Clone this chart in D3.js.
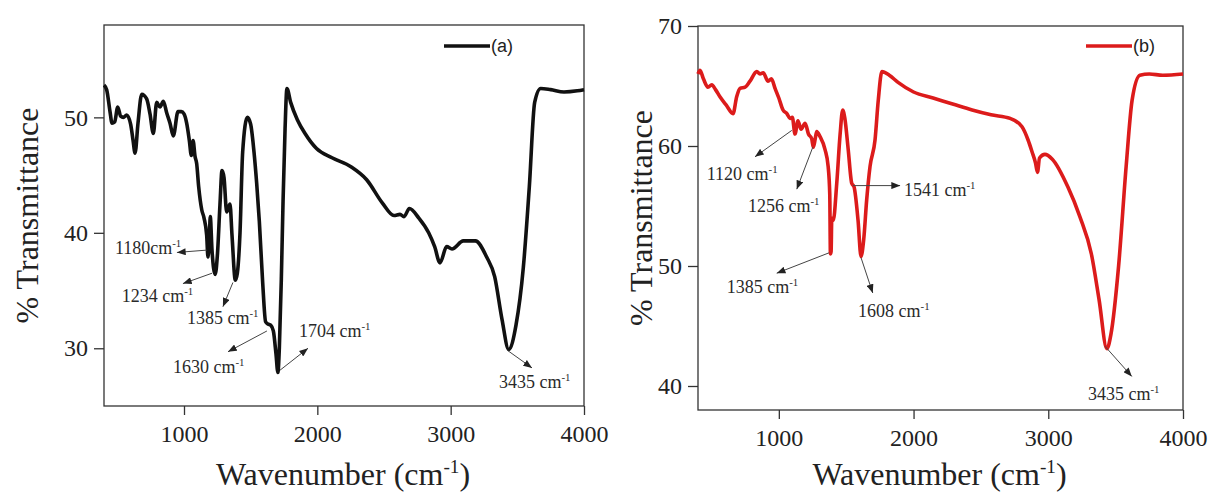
<!DOCTYPE html>
<html lang="en">
<head>
<meta charset="UTF-8">
<title>FTIR spectra (a) and (b)</title>
<script src="https://cdnjs.cloudflare.com/ajax/libs/d3/7.8.5/d3.min.js"></script>
<style>
  body { margin: 0; background: #fff; }
  svg { display: block; }
  .tick text { font-family: "Liberation Serif", "Times New Roman", serif; font-size: 24px; fill: #222; }
  .axis line { stroke: #333; stroke-width: 1.3px; }
  .axis path { display: none; }
  .frame { fill: none; stroke: #333; stroke-width: 1.3px; }
  .title { font-family: "Liberation Serif", "Times New Roman", serif; font-size: 32px; fill: #222; }
  .note { font-family: "Liberation Serif", "Times New Roman", serif; font-size: 18px; fill: #2a2a2a; }
  .legend { font-family: "Liberation Sans", Arial, sans-serif; font-size: 18px; fill: #222; }
  .pointer { stroke: #444; stroke-width: 1px; }
</style>
</head>
<body>
<div id="chart"></div>
<script>
// shared x axis
const xDomain = [400, 4000];
const xTicks = [1000, 2000, 3000, 4000];

// spectrum (a)
const waveA = [400, 420, 445, 460, 480, 503, 525, 545, 570, 600, 618, 633, 655, 683, 720, 745, 770, 795, 820, 845, 870, 895,
  920, 955, 980, 1000, 1020, 1040, 1055, 1068, 1083, 1095, 1110, 1133, 1150, 1170, 1180, 1190, 1197, 1210, 1234, 1250,
  1270, 1285, 1300, 1320, 1345, 1360, 1385, 1400, 1420, 1440, 1475, 1500, 1525, 1545, 1565, 1590, 1612, 1630, 1650,
  1670, 1690, 1704, 1715, 1730, 1743, 1758, 1772, 1800, 1850, 1908, 1994, 2110, 2255, 2370, 2487, 2575, 2620, 2650,
  2690, 2760, 2835, 2880, 2920, 2970, 3010, 3095, 3185, 3270, 3330, 3385, 3435, 3490, 3545, 3590, 3630, 3675, 3750,
  3850, 3950, 4000];
const transA = [52.8, 52.4, 50.5, 49.5, 49.6, 50.9, 50.1, 50.0, 50.2, 49.4, 48.0, 46.9, 49.5, 52.0, 51.6, 50.3, 48.6, 51.3, 50.9, 51.4, 50.4, 49.5,
  48.4, 50.5, 50.5, 50.3, 49.5, 48.0, 46.7, 48.0, 46.6, 46.0, 44.0, 42.0, 41.3, 39.8, 37.9, 39.5, 41.4, 38.5, 36.4, 38.0,
  42.5, 45.4, 44.8, 41.8, 42.5, 39.8, 35.9, 36.5, 40.0, 47.0, 50.0, 49.4, 47.0, 44.3, 41.0, 35.7, 32.3, 32.1, 32.0,
  31.5, 29.5, 27.9, 30.0, 36.0, 42.8, 49.0, 52.5, 51.3, 49.8, 48.6, 47.3, 46.5, 45.7, 44.6, 42.6, 41.5, 41.6, 41.4,
  42.1, 41.3, 40.0, 38.8, 37.4, 38.8, 38.6, 39.3, 39.3, 37.9, 36.2, 32.5, 29.9, 32.0, 37.0, 44.0, 51.3, 52.5, 52.4,
  52.2, 52.3, 52.4];

// spectrum (b)
const waveB = [400, 415, 440, 474, 502, 530, 563, 610, 660, 687, 712, 750, 786, 836, 860, 884, 920, 945, 972, 1000,
  1031, 1060, 1083, 1100, 1120, 1142, 1165, 1195, 1220, 1244, 1256, 1270, 1281, 1305, 1343, 1366, 1378, 1383, 1388,
  1393, 1404, 1430, 1455, 1474, 1490, 1515, 1541, 1558, 1588, 1610, 1630, 1652, 1677, 1714, 1738, 1765, 1820, 1885,
  2000, 2145, 2290, 2435, 2575, 2717, 2805, 2850, 2880, 2905, 2920, 2935, 2975, 3030, 3145, 3235, 3320, 3377, 3435,
  3465, 3522, 3578, 3622, 3680, 3750, 3850, 4000];
const transB = [66.0, 66.3, 65.6, 64.9, 65.1, 64.7, 64.1, 63.4, 62.7, 64.1, 64.8, 64.9, 65.4, 66.2, 66.0, 66.1, 65.4, 65.6, 64.8, 64.0,
  63.0, 62.7, 62.3, 62.4, 61.0, 62.1, 61.4, 61.9, 61.0, 60.6, 59.9, 60.6, 61.2, 60.8, 59.7, 58.3, 56.0, 51.0, 51.2,
  54.0, 53.8, 56.9, 61.0, 63.0, 62.3, 59.7, 56.9, 56.6, 53.8, 50.8, 52.2, 55.5, 58.3, 60.5, 63.8, 66.2, 65.9, 65.3,
  64.5, 64.0, 63.5, 63.0, 62.6, 62.3, 61.6, 60.5, 59.5, 58.6, 57.8, 59.0, 59.3, 58.9, 56.6, 54.1, 51.0, 47.2, 43.1,
  44.3, 50.0, 58.3, 63.8, 65.9, 66.0, 65.9, 66.0];

// peak labels: arrow from curve point to tip, label anchored at [wavenumber, transmittance]
const notesA = [
  { text: "1180", gap: "", from: [1170, 38.5], to: [947, 38.3], at: [482, 38.2] },
  { text: "1234", gap: " ", from: [1210, 36.5], to: [992, 35.6], at: [533, 34.0] },
  { text: "1385", gap: " ", from: [1367, 35.7], to: [1292, 33.6], at: [1022, 32.1] },
  { text: "1630", gap: " ", from: [1622, 31.5], to: [1330, 29.7], at: [917, 27.9] },
  { text: "1704", gap: " ", from: [1720, 28.1], to: [1930, 30.0], at: [1862, 31.0] },
  { text: "3435", gap: " ", from: [3422, 29.85], to: [3610, 28.3], at: [3362, 26.6] }
];
const notesB = [
  { text: "1120", gap: " ", from: [1096, 61.3], to: [823, 59.1], at: [465, 57.2] },
  { text: "1256", gap: " ", from: [1252, 59.9], to: [1133, 56.4], at: [771, 54.5] },
  { text: "1541", gap: " ", from: [1551, 56.7], to: [1900, 56.7], at: [1929, 55.8] },
  { text: "1385", gap: " ", from: [1373, 51.1], to: [984, 49.4], at: [613, 47.75] },
  { text: "1608", gap: " ", from: [1610, 50.7], to: [1697, 47.75], at: [1588, 45.75] },
  { text: "3435", gap: " ", from: [3422, 43.3], to: [3620, 40.8], at: [3295, 38.8] }
];

const svg = d3.select("#chart").append("svg")
    .attr("width", 1210)
    .attr("height", 493);

svg.append("rect").attr("width", 1210).attr("height", 493).attr("fill", "#fff");

svg.append("defs").append("marker")
    .attr("id", "arrowhead")
    .attr("viewBox", "0 -4 10 8")
    .attr("refX", 10)
    .attr("refY", 0)
    .attr("markerUnits", "userSpaceOnUse")
    .attr("markerWidth", 9)
    .attr("markerHeight", 7)
    .attr("orient", "auto")
  .append("path")
    .attr("d", "M0,-4L10,0L0,4Z")
    .attr("fill", "#222");

function addCm(sel, gap) {
    sel.append("tspan").text(gap + "cm");
    sel.append("tspan").attr("dy", -7).attr("font-size", "0.6em").text("-1");
}

function drawPanel(p) {
    const x = d3.scaleLinear().domain(xDomain).range([p.left, p.right]);
    const y = d3.scaleLinear().domain(p.yDomain).range([p.bottom, p.top]);
    const g = svg.append("g");

    g.append("g")
        .attr("class", "axis")
        .attr("transform", `translate(0,${p.bottom})`)
        .call(d3.axisBottom(x).tickValues(xTicks).tickSize(9).tickPadding(10).tickFormat(d3.format("d")));

    g.append("g")
        .attr("class", "axis")
        .attr("transform", `translate(${p.left},0)`)
        .call(d3.axisLeft(y).tickValues(p.yTicks).tickSize(10).tickPadding(6));

    g.append("rect")
        .attr("class", "frame")
        .attr("x", p.left).attr("y", p.top)
        .attr("width", p.right - p.left)
        .attr("height", p.bottom - p.top);

    const line = d3.line()
        .x(d => x(d[0]))
        .y(d => y(d[1]))
        .curve(d3.curveMonotoneX);

    g.append("path")
        .datum(p.wave.map((w, i) => [w, p.trans[i]]))
        .attr("d", line)
        .attr("fill", "none")
        .attr("stroke", p.color)
        .attr("stroke-width", 3.6)
        .attr("stroke-linejoin", "round");

    // legend
    g.append("line")
        .attr("x1", p.legendX).attr("x2", p.legendX + 46)
        .attr("y1", p.legendY).attr("y2", p.legendY)
        .attr("stroke", p.color).attr("stroke-width", 3.5);
    g.append("text")
        .attr("class", "legend")
        .attr("x", p.legendX + 47).attr("y", p.legendY + 6)
        .text(p.label);

    // peak pointers
    p.notes.forEach(n => {
        g.append("line")
            .attr("class", "pointer")
            .attr("x1", x(n.from[0])).attr("y1", y(n.from[1]))
            .attr("x2", x(n.to[0])).attr("y2", y(n.to[1]))
            .attr("marker-end", "url(#arrowhead)");
        const t = g.append("text")
            .attr("class", "note")
            .attr("x", x(n.at[0])).attr("y", y(n.at[1]))
            .text(n.text);
        addCm(t, n.gap);
    });

    // axis titles
    g.append("text")
        .attr("class", "title")
        .attr("text-anchor", "middle")
        .attr("transform", `translate(${p.yTitleX},${(p.top + p.bottom) / 2}) rotate(-90)`)
        .text("% Transmittance");

    const xt = g.append("text")
        .attr("class", "title")
        .attr("text-anchor", "middle")
        .attr("x", (p.left + p.right) / 2 - 1)
        .attr("y", 485)
        .text("Wavenumber (");
    xt.append("tspan").text("cm");
    xt.append("tspan").attr("dy", -12).attr("font-size", "0.6em").text("-1");
    xt.append("tspan").attr("dy", 12).text(")");
}

drawPanel({
    left: 104, right: 584, top: 25, bottom: 406,
    yDomain: [25, 58], yTicks: [30, 40, 50],
    wave: waveA, trans: transA, color: "#111",
    notes: notesA, label: "(a)", legendX: 444, legendY: 46, yTitleX: 38
});

drawPanel({
    left: 698, right: 1183, top: 26, bottom: 410,
    yDomain: [38, 70], yTicks: [40, 50, 60, 70],
    wave: waveB, trans: transB, color: "#dc1b1b",
    notes: notesB, label: "(b)", legendX: 1086, legendY: 46, yTitleX: 652
});
</script>
</body>
</html>
